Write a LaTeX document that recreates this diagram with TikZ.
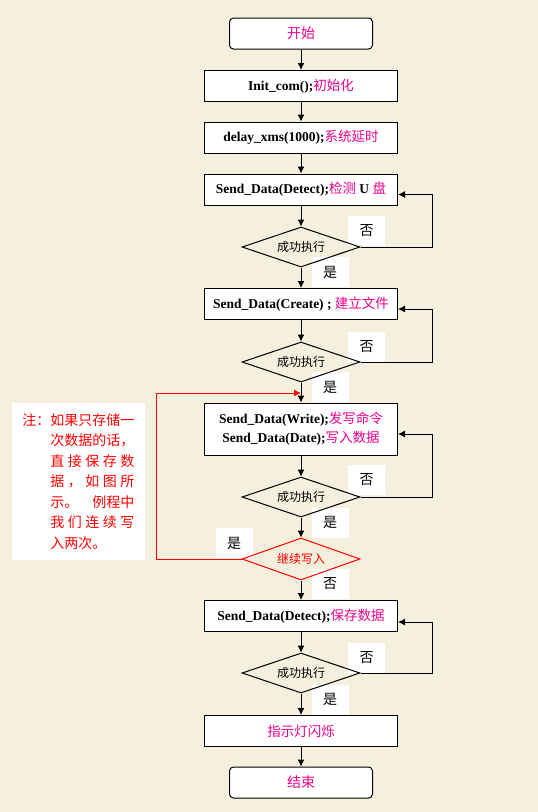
\documentclass[tikz,border=0pt]{standalone}
\usepackage{fontspec}
\setmainfont{Liberation Serif}
\newfontfamily\cjk{Noto Sans CJK SC}
\usepackage{tikz}
\usetikzlibrary{shapes.geometric,arrows.meta}
\definecolor{paper}{RGB}{245,239,222}
\newcommand{\hanzi}[1]{{\cjk\mdseries\color{magenta}#1}}

\begin{document}
\begin{tikzpicture}[x=1pt, y=-1pt, >={Latex[length=7pt,width=7pt]}, line width=1pt,
        every node/.style={inner sep=0pt},
        stepbox/.style={draw, fill=white, minimum width=193pt, minimum height=31pt,
            font=\fontsize{13.5}{19}\selectfont\bfseries},
        endbox/.style={draw, fill=white, rounded corners=4pt, minimum width=143pt,
            minimum height=31pt, font=\fontsize{14}{16}\selectfont},
        check/.style={draw, diamond, aspect=3, minimum width=118pt, minimum height=40pt,
            font=\cjk\fontsize{12}{14}\selectfont},
        tag/.style={fill=white, minimum width=37pt, minimum height=30pt,
            font=\cjk\fontsize{14}{16}\selectfont},
        notebox/.style={fill=white, minimum width=133pt, minimum height=157pt, text=red,
            align=left, font=\cjk\fontsize{14}{20.5}\selectfont}]
        \useasboundingbox (0,0) rectangle (538,812);
        \fill[paper] (0,0) rectangle (538,812);

        % Yes / no tags
        \node[tag] (no1) at (366.5,230.5) {否};
        \node[tag] (yes1) at (330,272) {是};
        \node[tag] (no2) at (366.5,347) {否};
        \node[tag] (yes2) at (330,387) {是};
        \node[tag] (no3) at (366.5,480) {否};
        \node[tag] (yes3) at (330,522.5) {是};
        \node[tag] (again) at (234,543) {是};
        \node[tag] (done) at (330,584) {否};
        \node[tag] (no4) at (366.5,657.5) {否};
        \node[tag] (yes4) at (330,699.5) {是};

        % Note
        \node[notebox] (note) at (78.5,481.5) {注：\makebox[84pt][s]{如果只存储一}\\
            \hspace*{28pt}\makebox[84pt][s]{次数据的话，}\\
            \hspace*{28pt}\makebox[84pt][s]{直\hfill 接\hfill 保\hfill 存\hfill 数}\\
            \hspace*{28pt}\makebox[84pt][s]{据\hfill ，\hfill 如\hfill 图\hfill 所}\\
            \hspace*{28pt}\makebox[84pt][s]{示。\hfill 例程中}\\
            \hspace*{28pt}\makebox[84pt][s]{我\hfill 们\hfill 连\hfill 续\hfill 写}\\
            \hspace*{28pt}\makebox[84pt][l]{入两次。}};

        % Steps
        \node[endbox] (start) at (301,33.5) {\hanzi{开始}};
        \node[stepbox] (init) at (301,86) {Init\_com();\hanzi{初始化}};
        \node[stepbox] (delay) at (301,137.5) {delay\_xms(1000);\hanzi{系统延时}};
        \node[stepbox] (detect) at (301,189.5) {Send\_Data(Detect);\hanzi{检测} U \hanzi{盘}};
        \node[check] (ok1) at (301,247) {成功执行};
        \node[stepbox] (create) at (301,304) {Send\_Data(Create) ; \hanzi{建立文件}};
        \node[check] (ok2) at (301,362) {成功执行};
        \coordinate (merge) at (301,393);
        \node[stepbox, minimum height=52pt, align=center] (write) at (301,429)
            {Send\_Data(Write);\hanzi{发写命令}\\Send\_Data(Date);\hanzi{写入数据}};
        \node[check] (ok3) at (301,497) {成功执行};
        \node[check, draw=red, text=red, minimum height=42pt] (more) at (301,559) {继续写入};
        \node[stepbox] (save) at (301,616) {Send\_Data(Detect);\hanzi{保存数据}};
        \node[check] (ok4) at (301,673) {成功执行};
        \node[stepbox] (blink) at (301,731) {\hanzi{指示灯闪烁}};
        \node[endbox] (stop) at (301,782.5) {\hanzi{结束}};

        % Connections
        \draw[->] (start) -- (init);
        \draw[->] (init) -- (delay);
        \draw[->] (delay) -- (detect);
        \draw[->] (detect) -- (ok1);
        \draw[->] (ok1) -- (create);
        \draw[->] (create) -- (ok2);
        \draw[->] (ok2) -- (write);
        \draw[->] (write) -- (ok3);
        \draw[->] (ok3) -- (more);
        \draw[->] (more) -- (save);
        \draw[->] (save) -- (ok4);
        \draw[->] (ok4) -- (blink);
        \draw[->] (blink) -- (stop);

        % Retry loops
        \draw[->] (ok1.east) -- ++(72,0) |- ([yshift=-5pt]detect.east);
        \draw[->] (ok2.east) -- ++(72,0) |- ([yshift=-5pt]create.east);
        \draw[->] (ok3.east) -- ++(72,0) |- ([yshift=-5pt]write.east);
        \draw[->] (ok4.east) -- ++(72,0) |- ([yshift=-6pt]save.east);

        % Write again
        \draw[red, ->] (more.west) -- ++(-85,0) |- (merge);
\end{tikzpicture}
\end{document}
